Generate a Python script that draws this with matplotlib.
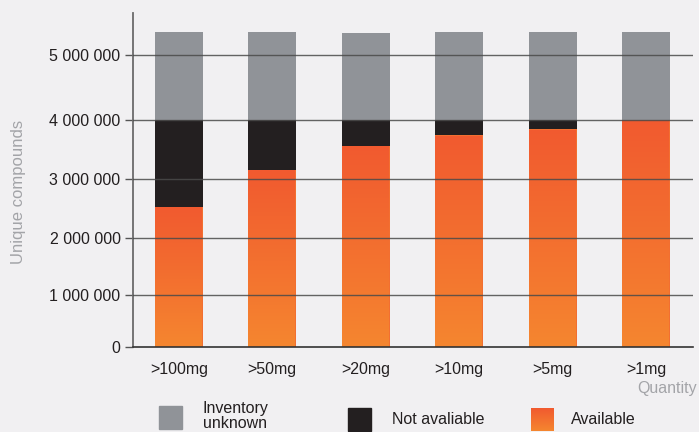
import numpy as np
import matplotlib
matplotlib.use('Agg')
import matplotlib.pyplot as plt
from matplotlib.colors import LinearSegmentedColormap
from matplotlib.patches import Rectangle

# dados
categorias = ['>100mg', '>50mg', '>20mg', '>10mg', '>5mg', '>1mg']
disponivel = [2530000, 3160000, 3560000, 3740000, 3840000, 4000000]
indisponivel = [1470000, 840000, 440000, 260000, 160000, 0]
desconhecido = [1360000, 1360000, 1340000, 1360000, 1360000, 1360000]
yticks = [0, 1000000, 2000000, 3000000, 4000000, 5000000]
ytick_labels = ['0', '1 000 000', '2 000 000', '3 000 000', '4 000 000', '5 000 000']

# escala do original nao e uniforme, mapeia cada linha de grade
valores_ref = np.array([0, 1, 2, 3, 4, 5, 6]) * 1e6
pos_ref = np.array([0, 52, 109, 167.7, 227.3, 292, 356.7])

def fwd(v):
    return np.interp(v, valores_ref, pos_ref)

def inv(p):
    return np.interp(p, pos_ref, valores_ref)

fundo = '#f1f0f2'
cinza = '#909398'
preto = '#231f20'
laranja = LinearSegmentedColormap.from_list('lar', ['#f5862f', '#f15a30'])

plt.rcParams['font.family'] = ['Liberation Sans', 'DejaVu Sans']

fig = plt.figure(figsize=(6.99, 4.32), dpi=100)
fig.patch.set_facecolor(fundo)
ax = fig.add_axes([133/699, 1 - 347/432, 560/699, 334/432])
ax.set_facecolor(fundo)
ax.set_yscale('function', functions=(fwd, inv))

x = np.arange(len(categorias))
w = 0.51
topo_preto = np.array(disponivel) + np.array(indisponivel)

barras = ax.bar(x, disponivel, w, color='#f26f31', edgecolor='none', zorder=2)
grad = np.linspace(0, 1, 256).reshape(-1, 1)
for b in barras:
    x0 = b.get_x()
    h = b.get_height()
    im = ax.imshow(grad, extent=[x0, x0 + b.get_width(), 0, h], origin='lower',
                   cmap=laranja, aspect='auto', zorder=2, interpolation='bilinear')
    im.set_clip_path(b)
ax.bar(x, indisponivel, w, bottom=disponivel, color=preto, zorder=2.5)
ax.bar(x, desconhecido, w, bottom=topo_preto, color=cinza, zorder=2.5)

ax.set_xlim(-0.49, 5.5)
ax.set_ylim(0, inv(334))

# grade por cima das barras
for yt in yticks[1:]:
    ax.axhline(yt, color='#4a4a4a', lw=1.0, alpha=0.85, zorder=3)

for s in ['top', 'right']:
    ax.spines[s].set_visible(False)
ax.spines['left'].set_color('#6b6b6b')
ax.spines['left'].set_linewidth(1.3)
ax.spines['bottom'].set_color('#333333')
ax.spines['bottom'].set_linewidth(1.2)
ax.spines['bottom'].set_zorder(4)

ax.set_yticks(yticks)
ax.set_yticklabels(ytick_labels, fontsize=11.5, color='#231f20')
ax.yaxis.set_minor_locator(matplotlib.ticker.NullLocator())
ax.tick_params(axis='y', length=6, width=1, color='#555555', pad=3)
ax.set_xticks(x)
ax.set_xticklabels(categorias, fontsize=11.5, color='#231f20')
ax.tick_params(axis='x', length=0, pad=11)

fig.text(19/699, 1 - 192/432, 'Unique compounds', rotation=90, ha='center', va='center',
         fontsize=12, color='#a3a4a8')
fig.text(697/699, 1 - 389/432, 'Quantity', ha='right', va='center',
         fontsize=11.5, color='#a3a4a8')

# legenda manual
itens = [(159, 406, cinza, 'Inventory\nunknown', 203, 416), (348, 408, preto, 'Not avaliable', 392, 420),
         (531, 408, None, 'Available', 571, 420)]
for xq, yq, cor, txt, xt, yt in itens:
    if cor is None:
        axl = fig.add_axes([xq/699, 1 - (yq + 23)/432, 23/699, 23/432])
        axl.imshow(grad[::-1], cmap=laranja, aspect='auto', extent=[0, 1, 0, 1])
        axl.axis('off')
    else:
        fig.patches.append(Rectangle((xq/699, 1 - (yq + 23)/432), 23/699, 23/432,
                                     transform=fig.transFigure, color=cor))
    fig.text(xt/699, 1 - yt/432, txt, ha='left', va='center', fontsize=11.5,
             color='#231f20', linespacing=0.95)

fig.savefig('out.png', dpi=100, facecolor=fundo)
